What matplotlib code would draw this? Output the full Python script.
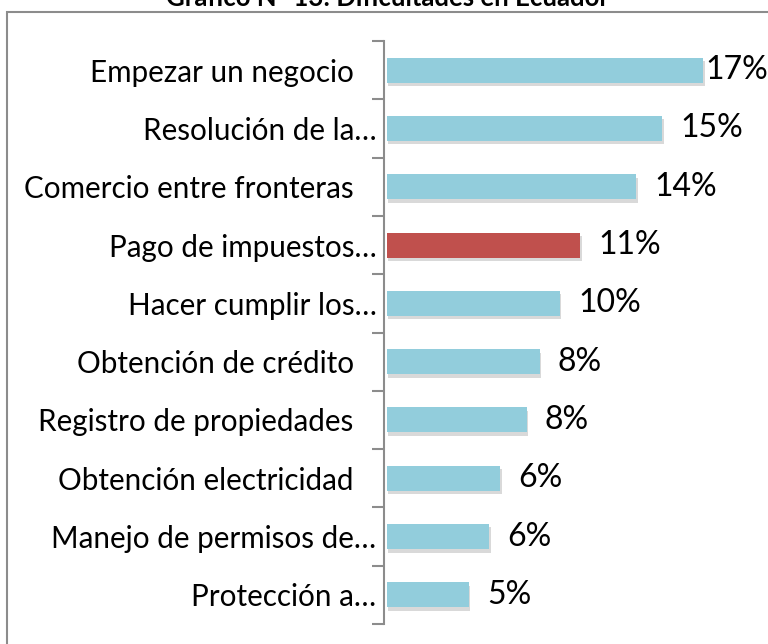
import matplotlib
matplotlib.use("Agg")
import matplotlib.pyplot as plt
import matplotlib.patheffects as pe
from matplotlib.patches import Rectangle

# top to bottom as shown
sp = "\u00a0\u00a0\u00a0"
categories = ["Empezar un negocio" + sp, "Resolución de la…", "Comercio entre fronteras" + sp,
              "Pago de impuestos…", "Hacer cumplir los…", "Obtención de crédito" + sp,
              "Registro de propiedades" + sp, "Obtención electricidad" + sp,
              "Manejo de permisos de…", "Protección a…"]
values = [17.0, 14.8, 13.4, 10.4, 9.3, 8.2, 7.5, 6.1, 5.5, 4.4]
labels = ["17%", "15%", "14%", "11%", "10%", "8%", "8%", "6%", "6%", "5%"]
highlight = "Pago de impuestos…"

W, H = 768, 644
plt.rcParams["font.family"] = ["Lato", "DejaVu Sans"]
fig = plt.figure(figsize=(W / 100, H / 100), dpi=100)

# outer frame (right / bottom edges fall outside the picture)
fig.patches.append(Rectangle((7 / W, -0.05), 1.0, 1 - 12 / H + 0.05, transform=fig.transFigure,
                             fill=False, edgecolor="#8c8c8c", lw=1.5))
fig.text(388 / W, 1 - 6 / H, "Gráfico N° 13: Dificultades en Ecuador", ha="center",
         va="baseline", fontsize=18.5, fontweight="bold")

x0, x1 = 387, 760
ytop, ybot = 41, 624
ax = fig.add_axes([x0 / W, 1 - ybot / H, (x1 - x0) / W, (ybot - ytop) / H])
ax.set_xlim(0, (x1 - x0) / 18.6)
n = len(categories)
ax.set_ylim(n - 0.5, -0.5)

colors = ["#C0504D" if c == highlight else "#92CDDC" for c in categories]
bars = ax.barh(range(n), values, height=0.43, color=colors, zorder=3)
for b in bars:
    b.set_path_effects([pe.SimplePatchShadow(offset=(1, -2.5), shadow_rgbFace="#a0a0a0", alpha=0.4),
                        pe.Normal()])

for i, (v, lab) in enumerate(zip(values, labels)):
    xx = min(v + 18 / 18.6, 17.1)
    ax.text(xx, i, lab, ha="left", va="center", fontsize=23, color="black")

for s in ["top", "right", "bottom"]:
    ax.spines[s].set_visible(False)
ax.spines["left"].set_color("#8c8c8c")
ax.spines["left"].set_linewidth(1.5)
ax.spines["left"].set_position(("outward", 2))
ax.set_xticks([])
ax.set_yticks(range(n))
ax.set_yticklabels(categories, fontsize=21.3)
ax.tick_params(axis="y", which="major", length=0, pad=5.5)
ax.set_yticks([i - 0.5 for i in range(n + 1)], minor=True)
ax.tick_params(axis="y", which="minor", length=9, width=1.5, color="#8c8c8c")

fig.savefig("out.png", dpi=100)
